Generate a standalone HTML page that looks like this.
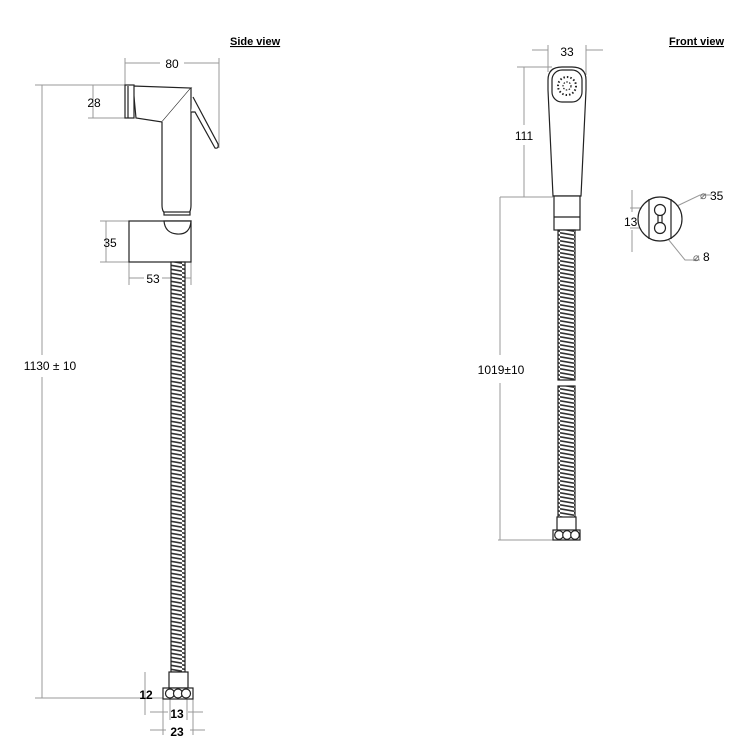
<!DOCTYPE html>
<html><head><style>
html,body{margin:0;padding:0;background:#fff;}
svg{display:block;}
text{font-family:"Liberation Sans",sans-serif;font-size:12px;fill:#000;}
</style></head><body>
<svg width="750" height="750" viewBox="0 0 750 750" xmlns="http://www.w3.org/2000/svg">
<defs>
<pattern id="hose" width="14" height="4" patternUnits="userSpaceOnUse">
<rect width="14" height="4" fill="#fff"/>
<path d="M0,0.8 L14,3.2" stroke="#333" stroke-width="1.6"/>
</pattern>
</defs>
<g stroke="#999" stroke-width="1" fill="none">
<line x1="42" y1="85" x2="42" y2="355"/><line x1="42" y1="377" x2="42" y2="698"/>
<line x1="35" y1="85" x2="125" y2="85"/><line x1="35" y1="698" x2="165" y2="698"/>
<line x1="125" y1="58" x2="125" y2="85"/><line x1="219" y1="58" x2="219" y2="148"/>
<line x1="125" y1="63" x2="160" y2="63"/><line x1="184" y1="63" x2="219" y2="63"/>
<line x1="88" y1="118" x2="125" y2="118"/><line x1="93" y1="85" x2="93" y2="118"/>
<line x1="100" y1="221" x2="129" y2="221"/><line x1="100" y1="262" x2="129" y2="262"/><line x1="106" y1="221" x2="106" y2="262"/>
<line x1="129" y1="262" x2="129" y2="285"/><line x1="191" y1="262" x2="191" y2="285"/>
<line x1="129" y1="278" x2="144" y2="278"/><line x1="162" y1="278" x2="191" y2="278"/>
<line x1="145" y1="672" x2="145" y2="715"/><line x1="163" y1="690" x2="163" y2="735"/><line x1="170" y1="690" x2="170" y2="720"/><line x1="187" y1="690" x2="187" y2="720"/><line x1="193" y1="690" x2="193" y2="735"/>
<line x1="150" y1="712" x2="168" y2="712"/><line x1="188" y1="712" x2="203" y2="712"/>
<line x1="150" y1="730" x2="166" y2="730"/><line x1="190" y1="730" x2="205" y2="730"/>
<line x1="548" y1="45" x2="548" y2="72"/><line x1="586" y1="45" x2="586" y2="75"/>
<line x1="532" y1="50" x2="548" y2="50"/><line x1="586" y1="50" x2="603" y2="50"/>
<line x1="517" y1="67" x2="552" y2="67"/><line x1="524" y1="67" x2="524" y2="125"/><line x1="524" y1="145" x2="524" y2="197"/>
<line x1="500" y1="197" x2="553" y2="197"/>
<line x1="500" y1="197" x2="500" y2="355"/><line x1="500" y1="383" x2="500" y2="540"/>
<line x1="498" y1="540" x2="553" y2="540"/>
<line x1="632" y1="190" x2="632" y2="212"/><line x1="632" y1="230" x2="632" y2="252"/>
<line x1="630" y1="208" x2="660" y2="208"/><line x1="630" y1="228" x2="660" y2="228"/>
<polyline points="677,206 700,195 712,195"/>
<polyline points="664,234 685,260 700,260"/>
</g>
<g stroke="#222" stroke-width="1.2" fill="#fff">
<path d="M133,86 L191,88 L162,122 L136,118 Z"/>
<rect x="125" y="85" width="9" height="33"/>
<line x1="128" y1="86" x2="128" y2="118"/>
<path d="M162,122 L162,205 Q162,214 168,214 L186,214 Q191,214 191,205 L191,88"/>
<path d="M193,97 L218,144 Q219,149 215,148 L195,112 L191,112"/>
<rect x="164" y="212" width="26" height="3"/>
<rect x="129" y="221" width="62" height="41"/>
<path d="M164,221 L191,221 Q190,235 177,234 Q165,233 164,221 Z"/>
<rect x="171" y="262" width="14" height="410" fill="url(#hose)"/>
<rect x="169" y="672" width="19" height="16"/>
<rect x="163" y="688" width="30" height="11"/>
<circle cx="170" cy="693.5" r="4.5"/><circle cx="178" cy="693.5" r="4.5"/><circle cx="186" cy="693.5" r="4.5"/>
<path d="M553,196 L548,90 L548,80 Q548,67 562,67 L572,67 Q586,67 586,80 L586,90 L581,196 Z"/>
<rect x="552" y="70" width="30" height="32" rx="10"/>
<circle cx="567" cy="86" r="9" stroke-dasharray="1.5 2" stroke-width="2"/>
<circle cx="567" cy="86" r="4" stroke-dasharray="1.5 1.5"/>
<rect x="554" y="196" width="26" height="34"/>
<line x1="554" y1="217" x2="580" y2="217"/>
<rect x="558" y="230" width="17" height="150" fill="url(#hose)"/>
<rect x="558" y="386" width="17" height="132" fill="url(#hose)"/>
<rect x="557" y="517" width="19" height="14"/>
<rect x="553" y="530" width="27" height="10"/>
<circle cx="559" cy="535" r="4.3"/><circle cx="567" cy="535" r="4.3"/><circle cx="575" cy="535" r="4.3"/>
<circle cx="660" cy="219" r="22"/>
<line x1="649" y1="199" x2="649" y2="239"/><line x1="671" y1="199" x2="671" y2="239"/>
<circle cx="660" cy="210" r="5.5"/><circle cx="660" cy="228" r="5.5"/>
<line x1="658" y1="215" x2="658" y2="223"/><line x1="662" y1="215" x2="662" y2="223"/>
</g>
<text x="230" y="45" font-weight="bold" style="font-size:11px" text-decoration="underline">Side view</text>
<text x="669" y="45" font-weight="bold" style="font-size:11px" text-decoration="underline">Front view</text>
<text x="172" y="68" text-anchor="middle">80</text>
<text x="94" y="107" text-anchor="middle">28</text>
<text x="110" y="247" text-anchor="middle">35</text>
<text x="153" y="283" text-anchor="middle">53</text>
<text x="50" y="370" text-anchor="middle">1130 ± 10</text>
<text x="146" y="699" text-anchor="middle" font-weight="bold">12</text>
<text x="177" y="718" text-anchor="middle" font-weight="bold">13</text>
<text x="177" y="736" text-anchor="middle" font-weight="bold">23</text>
<text x="567" y="56" text-anchor="middle">33</text>
<text x="524" y="140" text-anchor="middle">111</text>
<text x="501" y="374" text-anchor="middle">1019±10</text>
<text x="624" y="226">13</text>
<text x="700" y="199" style="font-size:11px;fill:#666">⌀</text><text x="710" y="200">35</text>
<text x="693" y="261" style="font-size:11px;fill:#666">⌀</text><text x="703" y="261">8</text>
</svg>
</body></html>
